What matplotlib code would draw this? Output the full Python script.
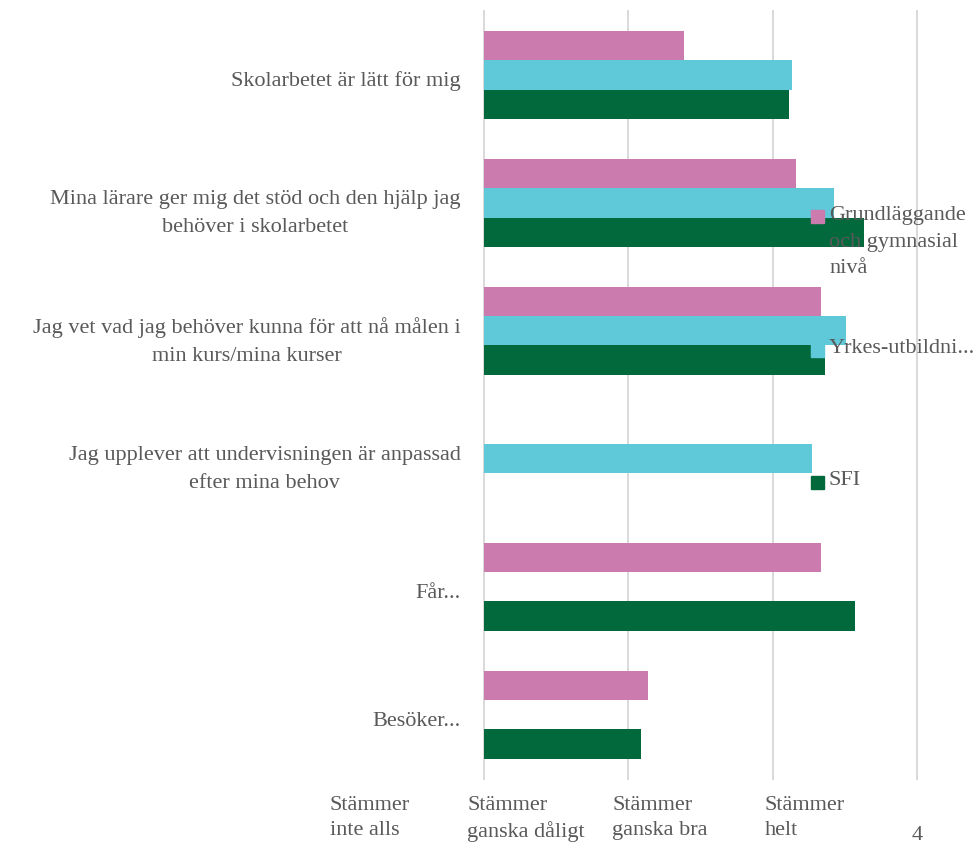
import matplotlib.pyplot as plt
import numpy as np
from matplotlib.patches import Rectangle

categories = ["Skolarbetet är lätt för mig",
              "Mina lärare ger mig det stöd och den hjälp jag\nbehöver i skolarbetet",
              "Jag vet vad jag behöver kunna för att nå målen i\nmin kurs/mina kurser",
              "Jag upplever att undervisningen är anpassad\nefter mina behov",
              "Får...",
              "Besöker..."]
grund = [2.384, 3.159, 3.332, np.nan, 3.332, 2.135]
yrkes = [3.131, 3.422, 3.505, 3.270, np.nan, np.nan]
sfi = [3.110, 3.630, 3.360, np.nan, 3.567, 2.087]

series_names = ["Grundläggande\noch gymnasial\nnivå", "Yrkes-utbildni...", "SFI"]
colors = ["#cb7bad", "#5fc9da", "#02693d"]
scale_labels = ["Stämmer\ninte alls", "Stämmer\nganska dåligt", "Stämmer\nganska bra", "Stämmer\nhelt"]
scale_pos = [0.21, 1.29, 2.22, 3.22]

txt = "#595959"
font = "Liberation Serif"
fs = 16

fig = plt.figure(figsize=(9.77, 8.46), dpi=100)
ax = fig.add_axes([0.4954, 0.0792, 0.4432, 0.9078])

y = np.arange(len(categories))
h = 0.2266
base = 1.0
for vals, off, c in zip([grund, yrkes, sfi], [-h, 0, h], colors):
    v = np.array(vals, dtype=float)
    ok = ~np.isnan(v)
    ax.barh(y[ok] + off, v[ok] - base, left=base, height=h, color=c, zorder=2)

ax.set_xlim(1, 4)
ax.set_ylim(len(categories) - 0.5, -0.5)
ax.set_yticks(y + 0.03)
ax.set_yticklabels(categories, fontsize=fs, color=txt, family=font,
                   ha="right", multialignment="center", linespacing=1.6)
ax.tick_params(axis="y", length=0, pad=17)
ax.set_xticks([1, 2, 3, 4])
ax.set_xticklabels(["", "", "", "4"], fontsize=fs, color=txt, family=font)
ax.tick_params(axis="x", length=0, pad=34)
ax.grid(axis="x", color="#d9d9d9", linewidth=1.4, zorder=0)
for g in ax.get_xgridlines():
    g.set_clip_on(False)
for s in ax.spines.values():
    s.set_visible(False)

tr = ax.get_xaxis_transform()
for p, lab in zip(scale_pos, scale_labels):
    ax.text(p, -0.022, lab, transform=tr, ha="center", va="top",
            multialignment="left", fontsize=fs, color=txt, family=font,
            clip_on=False, linespacing=1.42)

# legend drawn by hand, on top of the bars
leg_y = [217, 350, 482]
for name, c, py in zip(series_names, colors, leg_y):
    fy = 1 - py / 846
    fig.patches.append(Rectangle((811 / 977, fy - 6.5 / 846), 13 / 977, 13 / 846,
                                 transform=fig.transFigure, color=c, zorder=5))
    fig.text(829 / 977, fy + 11 / 846, name, ha="left", va="top", fontsize=fs,
             color=txt, family=font, zorder=6, linespacing=1.55)

fig.savefig("out.png", dpi=100)
